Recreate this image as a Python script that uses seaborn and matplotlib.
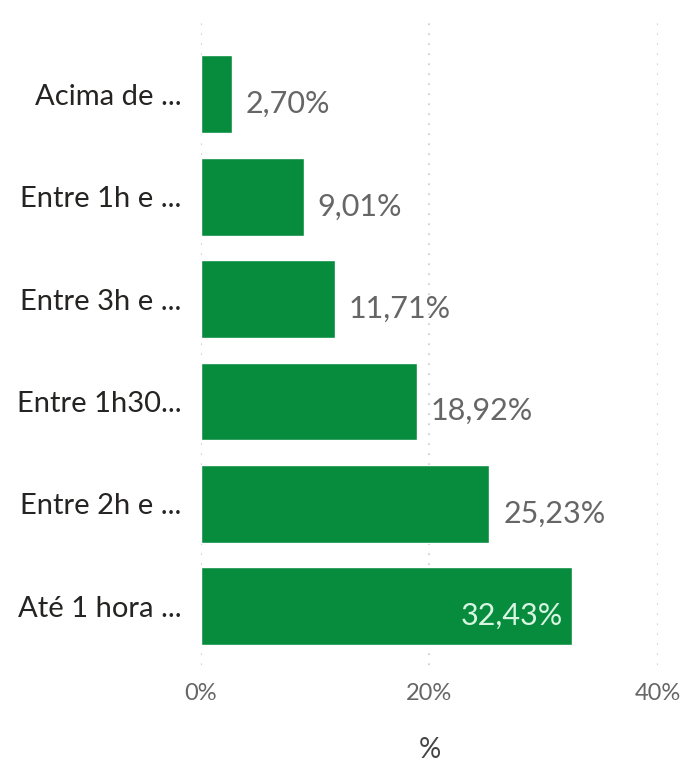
import matplotlib
matplotlib.use("Agg")
import matplotlib.pyplot as plt
import seaborn as sns
import pandas as pd

categories = ["Acima de ...", "Entre 1h e ...", "Entre 3h e ...", "Entre 1h30...", "Entre 2h e ...", "Até 1 hora ..."]
values = [2.70, 9.01, 11.71, 18.92, 25.23, 32.43]
labels = ["2,70%", "9,01%", "11,71%", "18,92%", "25,23%", "32,43%"]
xticks = [0, 20, 40]
xticklabels = ["0%", "20%", "40%"]

sns.set_theme(style="white")
plt.rcParams['font.family'] = ['Lato', 'DejaVu Sans']

df = pd.DataFrame({"cat": categories, "val": values})
fig = plt.figure(figsize=(6.85, 7.83), dpi=100)
ax = fig.add_axes([0.2934, 0.151, 0.6672, 0.823])
sns.barplot(data=df, x="val", y="cat", color="#078C3E", saturation=1, width=0.76, ax=ax, orient="h")
ax.set_xlim(0, 40)
ax.set_ylim(5.57, -0.72)
for s in ax.spines.values():
    s.set_visible(False)
ax.set_xticks(xticks)
ax.set_xticklabels(xticklabels, fontsize=17, color="#666666")
ax.tick_params(axis="x", length=0, pad=13)
ax.tick_params(axis="y", length=0, pad=14, labelsize=21, labelcolor="#252423")
ax.set_ylabel("")
ax.set_xlabel("%", fontsize=20, color="#444444", labelpad=24)
for x in xticks:
    ax.axvline(x, color="#c8c8c8", linestyle=(0, (1, 5)), linewidth=1.2, zorder=0)

for i, (v, lab) in enumerate(zip(values, labels)):
    if i == len(values) - 1:
        ax.annotate(lab, (v, i), xytext=(-6, -7), textcoords="offset points",
                    ha="right", va="center", fontsize=22, color="#d8f5e2")
    else:
        ax.annotate(lab, (v, i), xytext=(10, -7), textcoords="offset points",
                    ha="left", va="center", fontsize=22, color="#666666")

fig.savefig("out.png", dpi=100)
